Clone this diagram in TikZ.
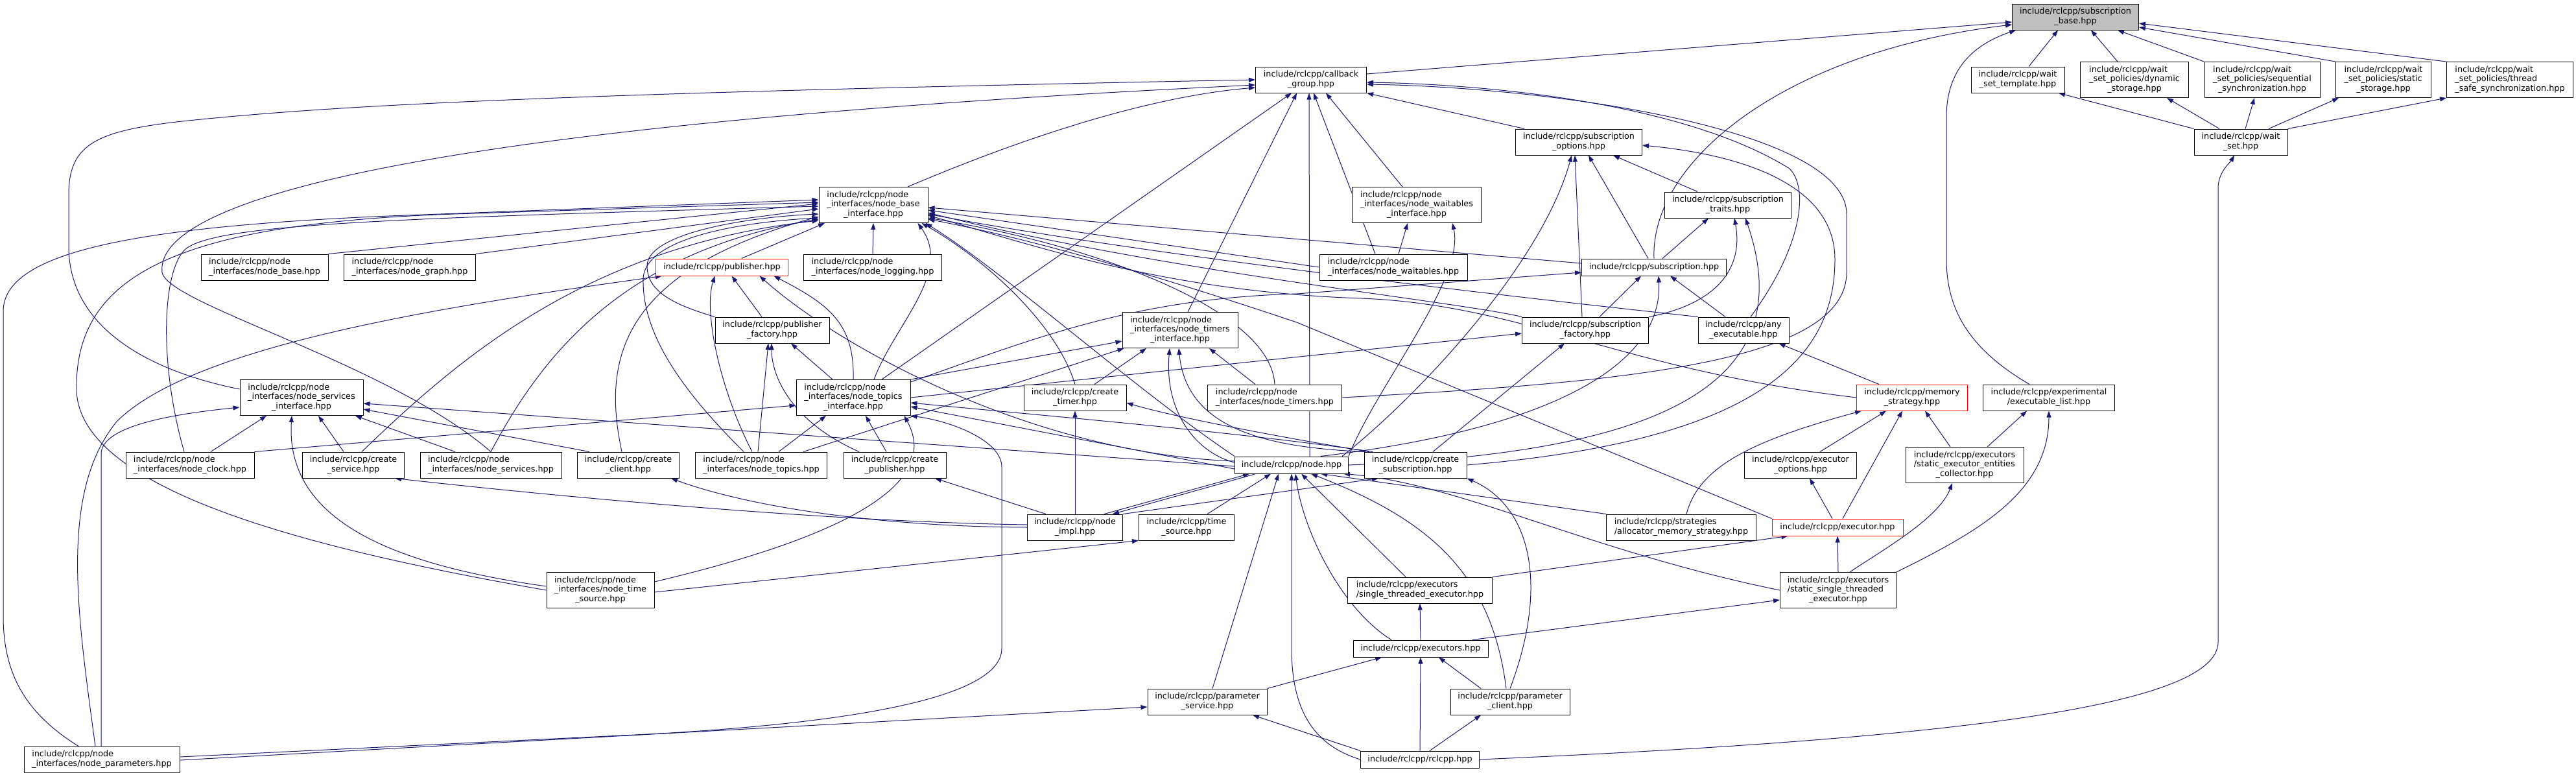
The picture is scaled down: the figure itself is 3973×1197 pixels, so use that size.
\documentclass[tikz,border=0pt]{standalone}
\usepackage{fontspec}
\newfontfamily\dvs{DejaVu Sans}
\usetikzlibrary{arrows.meta}
\definecolor{eblue}{HTML}{191970}
\definecolor{sbgray}{HTML}{BFBFBF}
\pgfdeclarelayer{back}
\pgfdeclarelayer{bg}
\pgfsetlayers{back,bg,main}
\newcommand\lB[2]{\begin{tabular}{@{}l@{}}#1\\\multicolumn{1}{@{}c@{}}{#2}\end{tabular}}
\newcommand\lC[3]{\begin{tabular}{@{}l@{}}#1\\#2\\\multicolumn{1}{@{}c@{}}{#3}\end{tabular}}
\newcommand\gnode[7][]{\node[box,minimum width=#5pt,minimum height=#6pt,#1] (#2) at (#3,#4) {#7};}
\begin{document}
\begin{tikzpicture}[x=1pt,y=-1pt,
 box/.style={draw=black,line width=1pt,fill=white,inner sep=0pt,font=\dvs\fontsize{12.8}{14.5}\selectfont},
 e/.style={draw=eblue,line width=1pt,-{Triangle[length=10pt,width=7pt]}}]
\useasboundingbox (0,0) rectangle (3973,1197);
\begin{pgfonlayer}{back}
\fill[white] (0,0) rectangle (3973,1197);
\end{pgfonlayer}
\gnode[fill=sbgray]{sb}{3201}{26}{195}{40}{\lB{include/rclcpp/subscription}{\_base.hpp}}
\gnode{wst}{3112}{123}{144}{40}{\lB{include/rclcpp/wait}{\_set\_template.hpp}}
\gnode{wsd}{3292}{123}{167}{55}{\lC{include/rclcpp/wait}{\_set\_policies/dynamic}{\_storage.hpp}}
\gnode{wss}{3489}{123}{178}{55}{\lC{include/rclcpp/wait}{\_set\_policies/sequential}{\_synchronization.hpp}}
\gnode{wsst}{3676}{123}{147}{55}{\lC{include/rclcpp/wait}{\_set\_policies/static}{\_storage.hpp}}
\gnode{wsts}{3871}{123}{195}{55}{\lC{include/rclcpp/wait}{\_set\_policies/thread}{\_safe\_synchronization.hpp}}
\gnode{ws}{3456}{219}{144}{40}{\lB{include/rclcpp/wait}{\_set.hpp}}
\gnode{cg}{2022}{123}{171}{40}{\lB{include/rclcpp/callback}{\_group.hpp}}
\gnode{so}{2435}{219}{195}{40}{\lB{include/rclcpp/subscription}{\_options.hpp}}
\gnode{nwi}{2185}{316}{199}{55}{\lC{include/rclcpp/node}{\_interfaces/node\_waitables}{\_interface.hpp}}
\gnode{st}{2665}{316}{195}{40}{\lB{include/rclcpp/subscription}{\_traits.hpp}}
\gnode{nbi}{1347}{316}{168}{55}{\lC{include/rclcpp/node}{\_interfaces/node\_base}{\_interface.hpp}}
\gnode{nb}{408}{412}{196}{40}{\lB{include/rclcpp/node}{\_interfaces/node\_base.hpp}}
\gnode{ng}{632}{412}{203}{40}{\lB{include/rclcpp/node}{\_interfaces/node\_graph.hpp}}
\gnode[draw=red]{pub}{1113.5}{412}{204}{26}{include/rclcpp/publisher.hpp}
\gnode{nl}{1346}{412}{213}{40}{\lB{include/rclcpp/node}{\_interfaces/node\_logging.hpp}}
\gnode{nw}{2149}{412}{228}{40}{\lB{include/rclcpp/node}{\_interfaces/node\_waitables.hpp}}
\gnode{sub}{2551}{412}{223}{26}{include/rclcpp/subscription.hpp}
\gnode{pf}{1191}{509}{176}{40}{\lB{include/rclcpp/publisher}{\_factory.hpp}}
\gnode{nti}{1820}{509}{178}{55}{\lC{include/rclcpp/node}{\_interfaces/node\_timers}{\_interface.hpp}}
\gnode{sf}{2445}{509}{195}{40}{\lB{include/rclcpp/subscription}{\_factory.hpp}}
\gnode{ae}{2689}{509}{140}{40}{\lB{include/rclcpp/any}{\_executable.hpp}}
\gnode{nsi}{465}{613}{190}{55}{\lC{include/rclcpp/node}{\_interfaces/node\_services}{\_interface.hpp}}
\gnode{ntpi}{1316}{613}{176}{55}{\lC{include/rclcpp/node}{\_interfaces/node\_topics}{\_interface.hpp}}
\gnode{ct}{1658}{613}{158}{40}{\lB{include/rclcpp/create}{\_timer.hpp}}
\gnode{nt}{1966}{613}{207}{40}{\lB{include/rclcpp/node}{\_interfaces/node\_timers.hpp}}
\gnode[draw=red]{ms}{2949}{613}{171}{40}{\lB{include/rclcpp/memory}{\_strategy.hpp}}
\gnode{el}{3160}{613}{203}{40}{\lB{include/rclcpp/experimental}{/executable\_list.hpp}}
\gnode{nc}{293}{717}{198}{40}{\lB{include/rclcpp/node}{\_interfaces/node\_clock.hpp}}
\gnode{cs}{545}{717}{157}{40}{\lB{include/rclcpp/create}{\_service.hpp}}
\gnode{ns}{757}{717}{218}{40}{\lB{include/rclcpp/node}{\_interfaces/node\_services.hpp}}
\gnode{cc}{969}{717}{157}{40}{\lB{include/rclcpp/create}{\_client.hpp}}
\gnode{ntp}{1174}{717}{203}{40}{\lB{include/rclcpp/node}{\_interfaces/node\_topics.hpp}}
\gnode{cp}{1380}{717}{158}{40}{\lB{include/rclcpp/create}{\_publisher.hpp}}
\gnode{node}{1992}{717}{175}{26}{include/rclcpp/node.hpp}
\gnode{csub}{2183}{717}{158}{40}{\lB{include/rclcpp/create}{\_subscription.hpp}}
\gnode{eo}{2777}{717}{173}{40}{\lB{include/rclcpp/executor}{\_options.hpp}}
\gnode{seec}{3030}{717}{182}{55}{\lC{include/rclcpp/executors}{/static\_executor\_entities}{\_collector.hpp}}
\gnode{ni}{1658}{813}{147}{40}{\lB{include/rclcpp/node}{\_impl.hpp}}
\gnode{ts}{1830}{813}{147}{40}{\lB{include/rclcpp/time}{\_source.hpp}}
\gnode{ams}{2593}{813}{231}{40}{\lB{include/rclcpp/strategies}{/allocator\_memory\_strategy.hpp}}
\gnode[draw=red]{ex}{2834}{813}{202}{26}{include/rclcpp/executor.hpp}
\gnode{nts}{926}{910}{166}{55}{\lC{include/rclcpp/node}{\_interfaces/node\_time}{\_source.hpp}}
\gnode{ste}{2190}{910}{223}{40}{\lB{include/rclcpp/executors}{/single\_threaded\_executor.hpp}}
\gnode{sste}{2835}{910}{179}{55}{\lC{include/rclcpp/executors}{/static\_single\_threaded}{\_executor.hpp}}
\gnode{exs}{2191}{1000}{208}{26}{include/rclcpp/executors.hpp}
\gnode{ps}{1862}{1082}{184}{40}{\lB{include/rclcpp/parameter}{\_service.hpp}}
\gnode{pc}{2329}{1082}{184}{40}{\lB{include/rclcpp/parameter}{\_client.hpp}}
\gnode{np}{157}{1171}{240}{40}{\lB{include/rclcpp/node}{\_interfaces/node\_parameters.hpp}}
\gnode{rc}{2190}{1171}{183}{26}{include/rclcpp/rclcpp.hpp}
\begin{pgfonlayer}{bg}
% into subscription_base
\draw[e] ([yshift=9pt]cg.east) -- ([yshift=-8pt]sb.west);
\draw[e] (sub.north) .. controls (2545,250) and (2750,80) .. ([yshift=-12pt]sb.west);
\draw[e] ([xshift=-30pt]el.north) .. controls (3040,540) and (3002,480) .. (3002,400) -- (3002,180) .. controls (3002,110) and (3040,70) .. ([xshift=6pt]sb.south west);
\draw[e] ([xshift=17pt]wst.north) -- ([xshift=-27pt]sb.south);
\draw[e] ([xshift=-26pt]wsd.north) -- ([xshift=24pt]sb.south);
\draw[e] (wss.north west) -- ([xshift=65pt]sb.south);
\draw[e] (wsst.north west) -- ([yshift=-16pt]sb.east);
\draw[e] (wsts.north west) -- ([yshift=-10pt]sb.east);
% wait set
\draw[e] (ws.north west) -- ([xshift=63pt]wst.south);
\draw[e] ([xshift=-33pt]ws.north) -- ([xshift=50pt]wsd.south);
\draw[e] ([xshift=7pt]ws.north) -- ([xshift=-12pt]wss.south);
\draw[e] ([xshift=43pt]ws.north) -- ([xshift=-69pt]wsst.south);
\draw[e] (ws.north east) -- (wsts.south west);
\draw[e] (rc.east) .. controls (3000,1140) and (3421,1090) .. (3421,990) -- (3421,290) .. controls (3421,265) and (3440,250) .. ([xshift=-10pt]ws.south);
% into callback_group
\draw[e] ([yshift=13pt]nsi.west) .. controls (220,570) and (106,500) .. (106,380) -- (106,300) .. controls (106,220) and (150,200) .. (300,185) .. controls (500,165) and (800,145) .. (cg.west);
\draw[e] (ns.north) .. controls (600,560) and (260,470) .. (250,420) .. controls (240,330) and (500,200) .. ([yshift=-8pt]cg.west);
\draw[e] ([xshift=44pt]ntpi.north) -- ([xshift=-30pt]cg.south);
\draw[e] ([xshift=12pt]nti.north) -- ([xshift=-22pt]cg.south);
\draw[e] ([xshift=28pt]node.north) -- ([xshift=-3pt]cg.south);
\draw[e] ([xshift=-28pt]nw.north) -- ([xshift=4pt]cg.south);
\draw[e] ([xshift=-22pt]nwi.north) -- ([xshift=23pt]cg.south);
\draw[e] ([xshift=-84pt]so.north) -- (cg.south east);
\draw[e] ([xshift=11pt]ae.north) .. controls (2780,380) and (2790,290) .. (2760,260) .. controls (2600,160) and (2300,130) .. ([yshift=-4pt]cg.east);
\draw[e] (nt.east) .. controls (2500,590) and (2848,560) .. (2848,420) -- (2848,330) .. controls (2848,200) and (2400,135) .. ([yshift=-7pt]cg.east);
\draw[e] ([xshift=53pt]nbi.north) .. controls (1560,220) and (1760,150) .. ([yshift=-12pt]cg.west);
% into node_base_interface
\draw[e] (nb.north east) -- ([yshift=2pt]nbi.west);
\draw[e] (ng.north east) -- ([yshift=-6pt]nbi.west);
\draw[e] (nl.north) -- (nbi.south);
\draw[e] ([xshift=30pt]pub.north) -- ([xshift=-75pt]nbi.south);
\draw[e] (pf.north west) .. controls (1040,470) and (998,450) .. (998,410) .. controls (998,360) and (1150,335) .. ([yshift=-14pt]nbi.west);
\draw[e] ([xshift=-27pt]ntp.north) .. controls (1060,610) and (990,520) .. (992,430) .. controls (994,365) and (1150,342) .. ([yshift=-20pt]nbi.west);
\draw[e] ([xshift=-36pt]np.north) .. controls (40,1100) and (5,1040) .. (5,950) -- (5,480) .. controls (5,390) and (200,350) .. (600,333) -- ([yshift=8pt]nbi.west);
\draw[e] (nts.west) .. controls (500,850) and (120,760) .. (118,600) .. controls (116,430) and (260,345) .. (700,330) -- ([yshift=4pt]nbi.west);
\draw[e] ([xshift=-9pt]nc.north) .. controls (245,560) and (250,420) .. (285,385) .. controls (330,345) and (600,337) .. ([yshift=-2pt]nbi.west);
\draw[e] ([xshift=13pt]cs.north) .. controls (700,560) and (900,380) .. ([yshift=-24pt]nbi.west);
\draw[e] (ns.north) .. controls (830,560) and (950,390) .. ([yshift=-22pt]nbi.west);
\draw[e] ([xshift=-10pt]cc.north) .. controls (930,560) and (950,420) .. ([yshift=-18pt]nbi.west);
\draw[e] (ct.north) .. controls (1630,500) and (1520,400) .. ([xshift=-10pt]nbi.south east);
\draw[e] (nt.north) .. controls (1960,480) and (1700,380) .. ([yshift=-20pt]nbi.east);
\draw[e] (nw.west) -- ([yshift=-8pt]nbi.east);
\draw[e] ([yshift=6pt]sub.west) -- ([yshift=-4pt]nbi.east);
\draw[e] (sf.north west) .. controls (2250,465) and (1800,420) .. ([yshift=-12pt]nbi.east);
\draw[e] (ae.north west) .. controls (2450,470) and (1800,400) .. ([yshift=-14pt]nbi.east);
\draw[e] (ms.west) .. controls (2500,570) and (2350,470) .. (2100,460) .. controls (1800,450) and (1600,380) .. ([yshift=-16pt]nbi.east);
\draw[e] (ex.north west) -- (2000,497) .. controls (1800,430) and (1600,370) .. ([yshift=-22pt]nbi.east);
\draw[e] (node.north west) .. controls (1750,600) and (1550,420) .. ([xshift=-4pt]nbi.south east);
\draw[e] ([xshift=32pt]ntpi.north) .. controls (1380,500) and (1470,420) .. ([xshift=-16pt]nbi.south east);
% node_waitables_interface
\draw[e] ([xshift=8pt]nw.north) -- ([xshift=-14pt]nwi.south);
\draw[e] (node.north east) .. controls (2120,600) and (2260,430) .. ([xshift=-45pt]nwi.south east);
% subscription_options
\draw[e] ([xshift=-10pt]node.north east) .. controls (2200,600) and (2380,400) .. ([xshift=-11pt]so.south);
\draw[e] ([xshift=-5pt]sf.north) -- ([xshift=-6pt]so.south);
\draw[e] ([xshift=-9pt]sub.north) -- ([xshift=15pt]so.south);
\draw[e] ([xshift=-47pt]st.north) -- ([xshift=53pt]so.south);
\draw[e] (csub.east) .. controls (2700,680) and (2830,560) .. (2830,400) .. controls (2830,290) and (2700,240) .. ([yshift=-5pt]so.east);
% subscription_traits
\draw[e] ([xshift=13pt]sub.north) -- ([xshift=-30pt]st.south);
\draw[e] (sf.north east) .. controls (2640,470) and (2690,420) .. ([xshift=10pt]st.south);
\draw[e] (node.east) .. controls (2500,700) and (2790,620) .. ([xshift=27pt]st.south);
% publisher
\draw[e] ([xshift=-10pt]np.north) .. controls (120,950) and (90,760) .. (180,650) .. controls (300,530) and (700,470) .. ([xshift=10pt]pub.south west);
\draw[e] ([xshift=-14pt]ntp.north) .. controls (1110,600) and (1085,480) .. ([xshift=-11pt]pub.south);
\draw[e] ([xshift=-16pt]pf.north) -- ([xshift=15pt]pub.south);
\draw[e] ([yshift=6pt]node.west) .. controls (1600,700) and (1300,540) .. ([xshift=58pt]pub.south);
\draw[e] (ntpi.north) .. controls (1318,500) and (1280,470) .. ([xshift=80pt]pub.south);
% publisher_factory
\draw[e] ([xshift=-32pt]ntpi.north) -- ([xshift=29pt]pf.south);
\draw[e] ([xshift=-5pt]ntp.north) -- ([xshift=-6pt]pf.south);
\draw[e] ([xshift=-55pt]cp.north) .. controls (1220,650) and (1190,580) .. ([xshift=-1pt]pf.south);
% node_timers_interface
\draw[e] (ntpi.north east) -- ([yshift=-17pt]nti.west);
\draw[e] ([xshift=65pt]ntp.north) -- ([xshift=3pt]nti.south west);
\draw[e] ([xshift=30pt]ct.north) -- ([xshift=-52pt]nti.south);
\draw[e] ([yshift=4pt]node.west) .. controls (1850,700) and (1795,640) .. ([xshift=-16pt]nti.south);
\draw[e] ([xshift=2pt]csub.north west) .. controls (1950,690) and (1830,660) .. ([xshift=-2pt]nti.south);
\draw[e] ([xshift=-30pt]nt.north) -- ([xshift=45pt]nti.south);
% subscription
\draw[e] ([yshift=-4pt]ntpi.north east) .. controls (1600,520) and (1750,460) .. (2000,453) -- ([yshift=-8pt]sub.west);
\draw[e] ([xshift=22pt]sf.north) -- ([xshift=-20pt]sub.south);
\draw[e] ([xshift=45pt]node.north) .. controls (2400,660) and (2565,560) .. ([xshift=7pt]sub.south);
\draw[e] ([xshift=-28pt]ae.north) -- ([xshift=25pt]sub.south);
% subscription_factory
\draw[e] (ntpi.east) -- ([yshift=-5pt]sf.west);
\draw[e] ([xshift=27pt]csub.north) -- ([xshift=-32pt]sf.south);
% any_executable
\draw[e] ([xshift=35pt]ms.north west) -- ([xshift=-16pt]ae.south east);
% node_services_interface
\draw[e] ([xshift=-1pt]np.north) -- (156,700) .. controls (156,660) and (250,640) .. ([yshift=-15pt]nsi.west);
\draw[e] ([xshift=32pt]nc.north) -- ([xshift=-54pt]nsi.south);
\draw[e] ([yshift=6pt]nts.west) .. controls (600,870) and (440,800) .. ([xshift=-15pt]nsi.south);
\draw[e] ([xshift=-15pt]cs.north) -- ([xshift=26pt]nsi.south);
\draw[e] ([xshift=-55pt]ns.north) -- ([xshift=83pt]nsi.south);
\draw[e] ([yshift=-2pt]node.west) -- ([yshift=-9pt]nsi.east);
\draw[e] ([xshift=-60pt]cc.north) -- ([yshift=-18pt]nsi.east);
% node_topics_interface
\draw[e] (nc.north east) -- ([yshift=-12pt]ntpi.west);
\draw[e] ([xshift=27pt]ntp.north) -- ([xshift=-42pt]ntpi.south);
\draw[e] ([xshift=-13pt]cp.north) -- ([xshift=19pt]ntpi.south);
\draw[e] ([yshift=-6pt]node.west) -- ([yshift=-14pt]ntpi.east);
\draw[e] ([yshift=4pt]np.east) -- (1000,1132) .. controls (1400,1110) and (1545,1060) .. (1545,1000) -- (1545,720) .. controls (1545,680) and (1470,650) .. (ntpi.south east);
\draw[e] ([yshift=13pt]nts.east) .. controls (1250,840) and (1460,760) .. ([xshift=-10pt]ntpi.south east);
\draw[e] ([xshift=14pt]csub.north west) .. controls (1900,665) and (1600,640) .. ([yshift=-8pt]ntpi.east);
% create_timer
\draw[e] (ni.north) -- (ct.south);
\draw[e] ([xshift=8pt]csub.north west) .. controls (1950,670) and (1800,640) .. ([yshift=-8pt]ct.east);
% memory_strategy
\draw[e] ([xshift=8pt]ams.north) .. controls (2620,720) and (2700,680) .. ([xshift=-78pt]ms.south);
\draw[e] ([xshift=30pt]eo.north) -- ([xshift=-40pt]ms.south);
\draw[e] ([xshift=8pt]ex.north) -- ([xshift=-15pt]ms.south);
\draw[e] ([xshift=-22pt]seec.north) -- ([xshift=20pt]ms.south);
% executable_list
\draw[e] ([xshift=35pt]seec.north) -- ([xshift=-34pt]el.south);
\draw[e] (sste.north east) .. controls (3050,820) and (3160,760) .. (el.south);
% create_subscription
\draw[e] (ni.north east) -- ([xshift=-57pt]csub.south);
\draw[e] (pc.north) .. controls (2390,900) and (2360,780) .. (csub.south east);
% node.hpp
\draw[e] ([xshift=45pt]ni.north) -- ([xshift=-65pt]node.south);
\draw[e] ([xshift=-55pt]node.south) -- ([xshift=58pt]ni.north);
\draw[e] ([xshift=32pt]ts.north) -- ([xshift=-32pt]node.south);
\draw[e] ([xshift=8pt]ps.north) -- ([xshift=-20pt]node.south);
\draw[e] (rc.west) .. controls (2030,1150) and (1992,1100) .. (1992,1000) -- (node.south);
\draw[e] ([xshift=-45pt]exs.north) .. controls (2070,940) and (2010,820) .. ([xshift=6pt]node.south);
\draw[e] ([xshift=-22pt]ste.north) -- ([xshift=15pt]node.south);
\draw[e] ([xshift=-6pt]pc.north) .. controls (2300,880) and (2200,800) .. ([xshift=30pt]node.south);
\draw[e] (ams.north west) -- ([xshift=45pt]node.south);
\draw[e] (sste.west) .. controls (2450,850) and (2250,745) .. ([xshift=-8pt]node.south east);
% executor
\draw[e] (ste.north east) -- ([xshift=25pt]ex.south west);
\draw[e] (sste.north) -- (ex.south);
\draw[e] ([xshift=-8pt]ex.north) -- ([xshift=14pt]eo.south);
\draw[e] ([xshift=18pt]sste.north) .. controls (2900,850) and (2990,800) .. ([xshift=-19pt]seec.south);
% time source
\draw[e] ([yshift=-3pt]nts.east) -- (ts.south west);
% executors
\draw[e] (exs.north) -- (ste.south);
\draw[e] ([xshift=80pt]exs.north) -- ([yshift=-15pt]sste.west);
\draw[e] (ps.north east) -- ([xshift=-60pt]exs.south);
\draw[e] ([xshift=-45pt]pc.north) -- ([xshift=28pt]exs.south);
\draw[e] (rc.north) -- (exs.south);
% parameter service/client
\draw[e] ([yshift=-1pt]np.east) -- ([yshift=-8pt]ps.west);
\draw[e] (rc.north west) -- ([xshift=70pt]ps.south);
\draw[e] ([xshift=15pt]rc.north) -- ([xshift=-45pt]pc.south);
% node_impl includes
\draw[e] ([yshift=4pt]ni.west) .. controls (1300,805) and (900,770) .. ([xshift=-15pt]cs.south east);
\draw[e] (ni.west) .. controls (1350,812) and (1150,780) .. ([xshift=-13pt]cc.south east);
\draw[e] ([xshift=-45pt]ni.north) -- ([xshift=62pt]cp.south);
\end{pgfonlayer}
\end{tikzpicture}
\end{document}
